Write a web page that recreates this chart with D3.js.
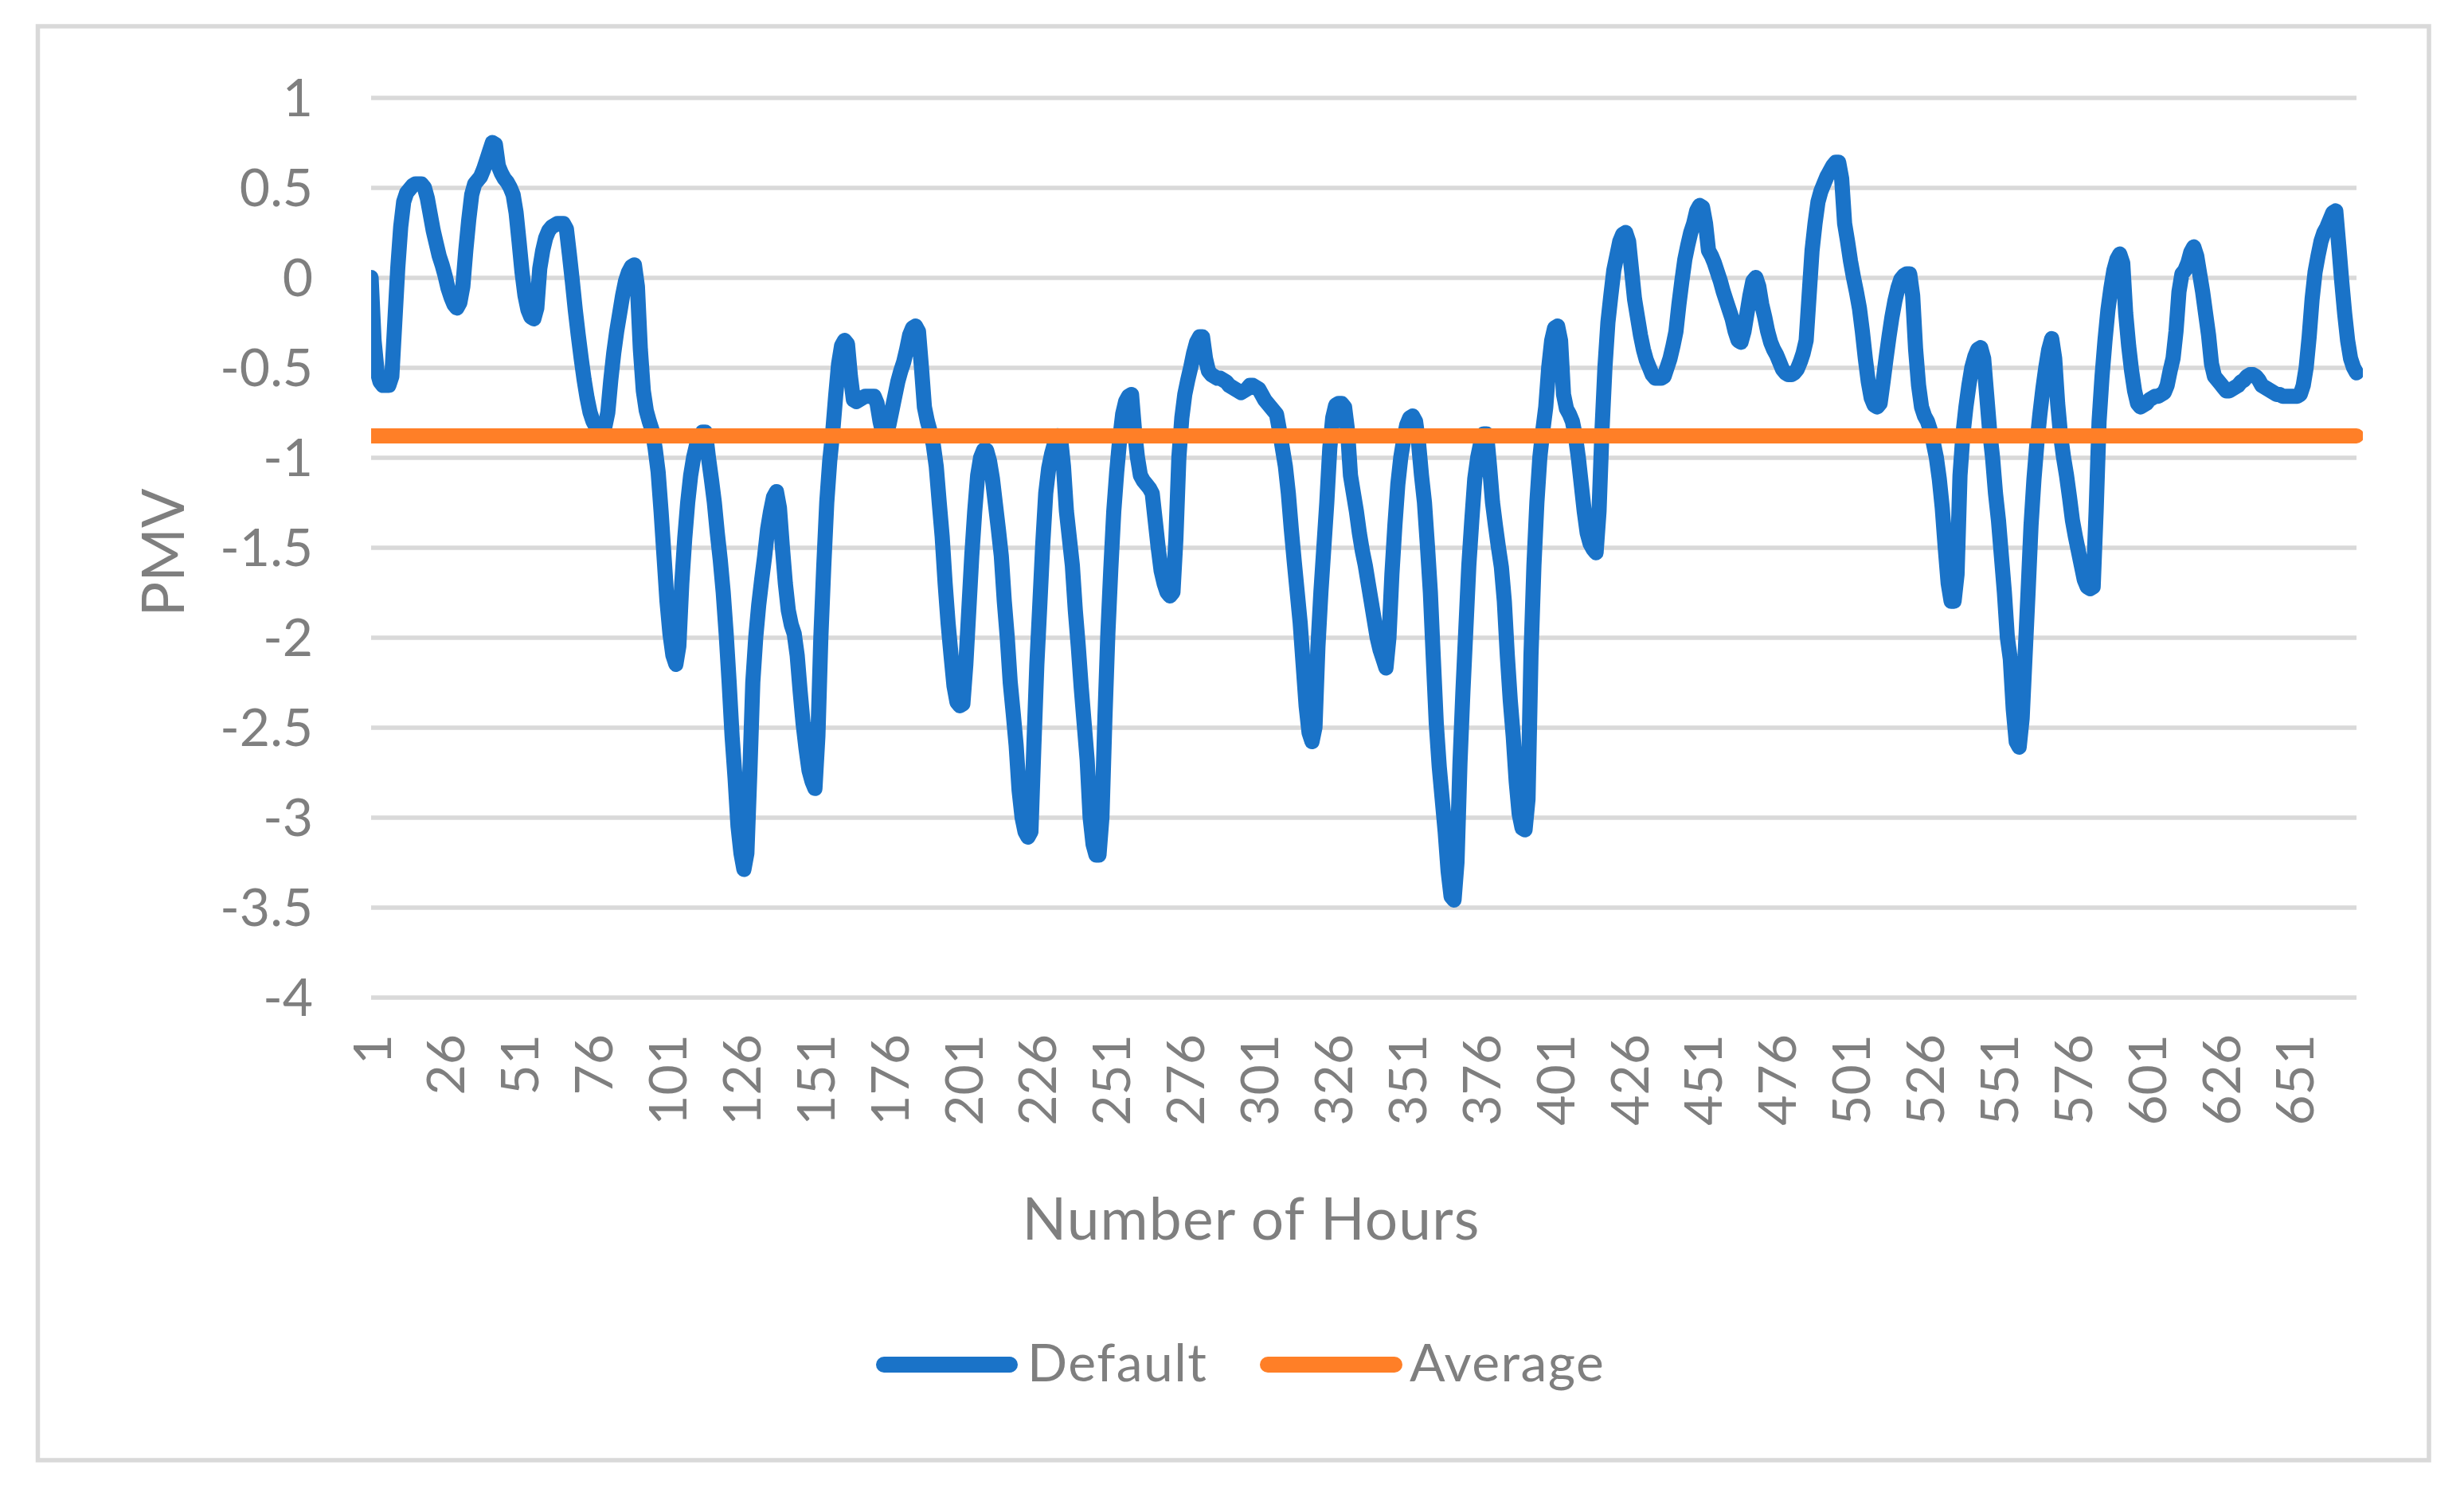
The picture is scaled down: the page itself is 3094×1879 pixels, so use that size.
<!DOCTYPE html>
<html>
<head>
<meta charset="utf-8">
<script src="https://cdn.jsdelivr.net/npm/d3@7"></script>
<style>
  html, body { margin: 0; padding: 0; background: #ffffff; }
  svg { display: block; }
  text { font-family: Lato, "Open Sans", sans-serif; fill: #7f7f7f; }
</style>
</head>
<body>
<svg id="chart" width="3094" height="1879"></svg>
<script>
// ---------------- data ----------------
const seriesNames = ["Default", "Average"];
const averageValue = -0.88;
const xTicks = [1, 26, 51, 76, 101, 126, 151, 176, 201, 226, 251, 276, 301, 326, 351, 376, 401, 426, 451, 476, 501, 526, 551, 576, 601, 626, 651];
const yTicks = [1, 0.5, 0, -0.5, -1, -1.5, -2, -2.5, -3, -3.5, -4];
// PMV per hour (hour 1 .. 672)
const pmv = [
  0.0, -0.35, -0.52, -0.58, -0.6, -0.6, -0.6, -0.55, -0.25, 0.05,
  0.28, 0.42, 0.47, 0.49, 0.51, 0.52, 0.52, 0.52, 0.5, 0.44,
  0.35, 0.26, 0.19, 0.12, 0.07, 0.01, -0.06, -0.11, -0.15, -0.17,
  -0.14, -0.05, 0.15, 0.32, 0.46, 0.52, 0.54, 0.56, 0.6, 0.65,
  0.7, 0.75, 0.74, 0.62, 0.58, 0.55, 0.53, 0.5, 0.46, 0.36,
  0.2, 0.03, -0.1, -0.18, -0.22, -0.23, -0.17, 0.05, 0.15, 0.22,
  0.26, 0.28, 0.29, 0.3, 0.3, 0.3, 0.27, 0.13, -0.02, -0.18,
  -0.32, -0.45, -0.57, -0.67, -0.75, -0.8, -0.83, -0.85, -0.86, -0.83,
  -0.75, -0.57, -0.42, -0.3, -0.2, -0.1, -0.02, 0.03, 0.06, 0.07,
  -0.05, -0.4, -0.63, -0.74, -0.8, -0.85, -0.95, -1.08, -1.3, -1.55,
  -1.8, -1.98, -2.1, -2.15, -2.05, -1.7, -1.45, -1.25, -1.1, -1.0,
  -0.93, -0.89, -0.86, -0.86, -1.0, -1.12, -1.25, -1.42, -1.57, -1.75,
  -1.98, -2.25, -2.55, -2.78, -3.05, -3.2, -3.29, -3.2, -2.75, -2.25,
  -2.0, -1.82, -1.68, -1.55, -1.4, -1.3, -1.22, -1.19, -1.28, -1.5,
  -1.7, -1.85, -1.93, -1.98, -2.1, -2.3, -2.48, -2.62, -2.74, -2.8,
  -2.84, -2.55, -2.0, -1.6, -1.25, -1.02, -0.86, -0.66, -0.48, -0.38,
  -0.35, -0.37, -0.55, -0.68, -0.69, -0.68, -0.67, -0.66, -0.66, -0.66,
  -0.66, -0.7, -0.8, -0.87, -0.88, -0.82, -0.74, -0.66, -0.58, -0.52,
  -0.47, -0.4, -0.32, -0.28, -0.27, -0.3, -0.5, -0.72, -0.8, -0.86,
  -0.93, -1.05, -1.25, -1.44, -1.7, -1.92, -2.1, -2.27, -2.36, -2.38,
  -2.37, -2.15, -1.85, -1.55, -1.3, -1.1, -1.0, -0.96, -0.96, -1.02,
  -1.12, -1.26, -1.4, -1.55, -1.8, -2.0, -2.25, -2.42, -2.6, -2.85,
  -3.0, -3.08, -3.11, -3.08, -2.6, -2.15, -1.82, -1.48, -1.2, -1.06,
  -0.98, -0.92, -0.88, -0.89, -1.05, -1.3, -1.45, -1.6, -1.85, -2.05,
  -2.28, -2.48, -2.68, -3.0, -3.15, -3.21, -3.21, -3.0, -2.45, -1.98,
  -1.62, -1.3, -1.08, -0.9, -0.76, -0.69, -0.66, -0.65, -0.85, -1.0,
  -1.1, -1.13, -1.15, -1.17, -1.2, -1.35, -1.5, -1.63, -1.7, -1.75,
  -1.77, -1.75, -1.45, -1.0, -0.78, -0.65, -0.57, -0.5, -0.42, -0.36,
  -0.33, -0.33, -0.45, -0.52, -0.54, -0.55, -0.56, -0.56, -0.57, -0.58,
  -0.6, -0.61, -0.62, -0.63, -0.64, -0.63, -0.62, -0.6, -0.6, -0.61,
  -0.62, -0.65, -0.68, -0.7, -0.72, -0.74, -0.76, -0.85, -0.95, -1.05,
  -1.2, -1.4, -1.58, -1.75, -1.92, -2.15, -2.38, -2.53, -2.58, -2.5,
  -2.05, -1.75, -1.5, -1.25, -0.95, -0.78, -0.71, -0.7, -0.7, -0.72,
  -0.85, -1.1, -1.2, -1.3, -1.42, -1.52, -1.6, -1.7, -1.8, -1.9,
  -2.0, -2.07, -2.12, -2.17, -2.0, -1.65, -1.38, -1.15, -1.0, -0.9,
  -0.82, -0.78, -0.77, -0.8, -0.92, -1.1, -1.25, -1.49, -1.75, -2.12,
  -2.48, -2.72, -2.9, -3.08, -3.3, -3.44, -3.46, -3.25, -2.7, -2.3,
  -1.95, -1.6, -1.35, -1.12, -1.0, -0.92, -0.87, -0.87, -1.05, -1.25,
  -1.38, -1.5, -1.61, -1.8, -2.1, -2.35, -2.55, -2.8, -2.98, -3.06,
  -3.07, -2.9, -2.1, -1.6, -1.25, -1.0, -0.85, -0.72, -0.5, -0.35,
  -0.28, -0.27, -0.35, -0.65, -0.73, -0.76, -0.8, -0.88, -1.0, -1.15,
  -1.3, -1.42, -1.48, -1.51, -1.53, -1.3, -0.85, -0.5, -0.25, -0.1,
  0.04, 0.12, 0.2, 0.24, 0.25, 0.2, 0.04, -0.12, -0.22, -0.32,
  -0.4, -0.46, -0.5, -0.54, -0.56, -0.56, -0.56, -0.55, -0.5, -0.45,
  -0.38, -0.3, -0.15, -0.02, 0.1, 0.18, 0.25, 0.3, 0.37, 0.4,
  0.39, 0.3, 0.15, 0.12, 0.08, 0.03, -0.02, -0.08, -0.13, -0.18,
  -0.23, -0.3, -0.35, -0.36, -0.3, -0.2, -0.1, -0.02, 0.0, -0.05,
  -0.15, -0.22, -0.3, -0.36, -0.4, -0.43, -0.47, -0.51, -0.53, -0.54,
  -0.54, -0.53, -0.51, -0.47, -0.42, -0.35, -0.1, 0.15, 0.3, 0.42,
  0.48, 0.52, 0.56, 0.59, 0.62, 0.64, 0.64, 0.55, 0.3, 0.2,
  0.09, 0.0, -0.08, -0.17, -0.3, -0.45, -0.58, -0.67, -0.71, -0.72,
  -0.7, -0.58, -0.45, -0.33, -0.22, -0.13, -0.06, -0.01, 0.01, 0.02,
  0.02, -0.1, -0.4, -0.6, -0.72, -0.77, -0.8, -0.85, -0.92, -1.0,
  -1.12, -1.28, -1.5, -1.7, -1.8, -1.8, -1.65, -1.1, -0.87, -0.72,
  -0.6, -0.5, -0.44, -0.4, -0.39, -0.45, -0.65, -0.85, -1.0, -1.2,
  -1.35, -1.55, -1.75, -2.0, -2.12, -2.4, -2.58, -2.61, -2.45, -2.1,
  -1.75, -1.38, -1.12, -0.92, -0.76, -0.62, -0.5, -0.4, -0.34, -0.45,
  -0.7, -0.88, -1.0, -1.1, -1.22, -1.35, -1.44, -1.52, -1.6, -1.68,
  -1.72, -1.73, -1.72, -1.3, -0.8, -0.55, -0.35, -0.18, -0.06, 0.04,
  0.1, 0.13, 0.08, -0.2, -0.38, -0.52, -0.63, -0.7, -0.72, -0.71,
  -0.7, -0.68, -0.67, -0.66, -0.66, -0.65, -0.64, -0.6, -0.52, -0.45,
  -0.3, -0.08, 0.02, 0.04, 0.08, 0.14, 0.17, 0.12, 0.02, -0.08,
  -0.2, -0.32, -0.48, -0.55, -0.57, -0.59, -0.61, -0.63, -0.63, -0.62,
  -0.61, -0.6, -0.58, -0.57, -0.55, -0.54, -0.54, -0.55, -0.57, -0.6,
  -0.61, -0.62, -0.63, -0.64, -0.65, -0.65, -0.66, -0.66, -0.66, -0.66,
  -0.66, -0.66, -0.65, -0.6, -0.5, -0.33, -0.12, 0.03, 0.12, 0.2,
  0.25, 0.28, 0.32, 0.36, 0.37, 0.18, -0.02, -0.2, -0.35, -0.45,
  -0.5, -0.53
];
const hours = pmv.map((v, i) => i + 1);

// ---------------- layout ----------------
const W = 3094, H = 1879;
const plotLeft = 466, plotRight = 2959, plotTop = 122.5, plotBottom = 1252.5;
const colors = { Default: "#1a73c8", Average: "#ff7f27", grid: "#d9d9d9", text: "#7f7f7f" };
const tickFont = 66, titleFont = 73, lineW = 19;

const svg = d3.select("#chart");
svg.append("rect").attr("x", 0).attr("y", 0).attr("width", W).attr("height", H).attr("fill", "#ffffff");
// chart border
svg.append("rect").attr("x", 47.5).attr("y", 33).attr("width", 3050 - 47.5).attr("height", 1834 - 33)
  .attr("fill", "none").attr("stroke", colors.grid).attr("stroke-width", 5.5);

const x = d3.scaleLinear().domain([1, hours.length]).range([plotLeft, plotRight]);
const y = d3.scaleLinear().domain([-4, 1]).range([plotBottom, plotTop]);

// y axis with gridlines
const yAxis = svg.append("g").attr("transform", `translate(${plotLeft},0)`)
  .call(d3.axisLeft(y).tickValues(yTicks).tickSizeInner(-(plotRight - plotLeft)).tickSizeOuter(0)
    .tickPadding(73).tickFormat(d => String(d)));
yAxis.select(".domain").remove();
yAxis.selectAll("line").attr("stroke", colors.grid).attr("stroke-width", 5.5);
yAxis.selectAll("text").attr("font-size", tickFont).attr("dy", "0.355em")
  .style("font-family", "Lato").attr("fill", colors.text);

// x axis labels (rotated)
const xAxis = svg.append("g").attr("transform", `translate(0,${plotBottom})`)
  .call(d3.axisBottom(x).tickValues(xTicks).tickSize(0).tickFormat(d => String(d)));
xAxis.select(".domain").remove();
xAxis.selectAll("text")
  .attr("y", null).attr("dy", null)
  .attr("text-anchor", "end")
  .attr("transform", `translate(24,${1299 - plotBottom}) rotate(-90)`)
  .attr("font-size", tickFont).style("font-family", "Lato").attr("fill", colors.text);

// clip for series
svg.append("clipPath").attr("id", "plotClip").append("rect")
  .attr("x", plotLeft).attr("y", 0).attr("width", plotRight - plotLeft + 8).attr("height", H);

const line = d3.line().x(d => x(d[0])).y(d => y(d[1]));
const gSeries = svg.append("g").attr("clip-path", "url(#plotClip)");
gSeries.append("path")
  .datum(hours.map((h, i) => [h, pmv[i]]))
  .attr("d", line).attr("fill", "none").attr("stroke", colors.Default)
  .attr("stroke-width", lineW).attr("stroke-linejoin", "round").attr("stroke-linecap", "round");
gSeries.append("path")
  .datum([[hours[0], averageValue], [hours[hours.length - 1], averageValue]])
  .attr("d", line).attr("fill", "none").attr("stroke", colors.Average)
  .attr("stroke-width", lineW).attr("stroke-linecap", "round");

// axis titles
svg.append("text").attr("x", 1571).attr("y", 1557).attr("text-anchor", "middle")
  .attr("font-size", titleFont).attr("letter-spacing", 1.2).text("Number of Hours");
svg.append("text").attr("transform", "translate(231,694) rotate(-90)").attr("text-anchor", "middle")
  .attr("font-size", titleFont).text("PMV");

// legend
const legendItems = [
  { name: seriesNames[0], x0: 1110, x1: 1268, tx: 1290 },
  { name: seriesNames[1], x0: 1592, x1: 1751, tx: 1770 }
];
const lg = svg.append("g");
legendItems.forEach(it => {
  lg.append("line").attr("x1", it.x0).attr("x2", it.x1).attr("y1", 1714).attr("y2", 1714)
    .attr("stroke", colors[it.name]).attr("stroke-width", 20).attr("stroke-linecap", "round");
  lg.append("text").attr("x", it.tx).attr("y", 1735).attr("font-size", tickFont)
    .attr("letter-spacing", 1.5).text(it.name);
});
</script>
</body>
</html>
